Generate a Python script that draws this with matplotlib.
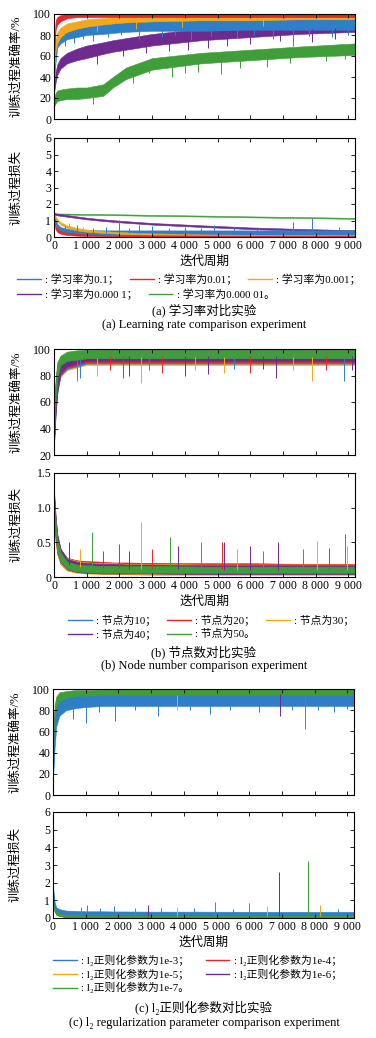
import numpy as np
import matplotlib
matplotlib.use('Agg')
import matplotlib.pyplot as plt
from matplotlib.lines import Line2D

plt.rcParams['font.family'] = ['Liberation Serif', 'Noto Sans CJK SC', 'DejaVu Serif']
plt.rcParams['axes.unicode_minus'] = False

W, H = 376, 1038

COLORS = ['#2f7fc8', '#e8262a', '#f2a81d', '#6e2a8e', '#3f9e3a']

XS = [0, 50, 100, 200, 400, 700, 1000, 1500, 1800, 2200, 3000, 4500, 6000, 7500, 9200]
XTICKS = [0, 1000, 2000, 3000, 4000, 5000, 6000, 7000, 8000, 9000]
XTICKLABELS = ['0', '1 000', '2 000', '3 000', '4 000', '5 000', '6 000', '7 000', '8 000', '9 000']

# (a) learning rate -- accuracy band (low / high), loss band
a_labels = [': 学习率为0.1；', ': 学习率为0.01；', ': 学习率为0.001；',
            ': 学习率为0.000 1；', ': 学习率为0.000 01。']
a_acc_lo = [
    [35, 55, 68, 72, 76, 78, 80, 81, 82, 83, 84, 84, 85, 85, 85],
    [55, 85, 90, 93, 96, 97, 97, 97, 97, 97, 97, 97, 97, 97, 97],
    [45, 65, 72, 78, 83, 86, 88, 90, 91, 92, 93, 94, 94, 95, 95],
    [25, 35, 42, 48, 53, 56, 58, 62, 64, 66, 70, 75, 78, 81, 83],
    [12, 15, 17, 18, 19, 19, 20, 22, 30, 38, 47, 53, 56, 59, 61],
]
a_acc_hi = [
    [45, 70, 82, 86, 89, 91, 92, 93, 94, 94, 95, 95, 95, 95, 95],
    [65, 94, 97, 99, 100, 100, 100, 100, 100, 100, 100, 100, 100, 100, 100],
    [55, 75, 82, 87, 91, 93, 95, 96, 97, 97, 98, 98, 98.5, 98.5, 98.5],
    [32, 45, 52, 58, 63, 67, 70, 73, 75, 77, 81, 86, 88, 90, 92],
    [20, 25, 27, 28, 29, 30, 30, 33, 40, 49, 58, 63, 66, 69, 72],
]
a_loss_lo = [
    [1.30, 0.80, 0.50, 0.30, 0.20, 0.15, 0.13, 0.12, 0.12, 0.12, 0.12, 0.12, 0.12, 0.12, 0.12],
    [0.90, 0.45, 0.30, 0.20, 0.12, 0.08, 0.06, 0.04, 0.04, 0.03, 0.02, 0.02, 0.01, 0.01, 0.01],
    [1.25, 1.10, 0.95, 0.75, 0.55, 0.40, 0.32, 0.25, 0.22, 0.18, 0.13, 0.09, 0.07, 0.06, 0.05],
    [1.37, 1.33, 1.31, 1.28, 1.23, 1.15, 1.07, 0.97, 0.92, 0.86, 0.75, 0.61, 0.48, 0.39, 0.31],
    [1.37, 1.37, 1.37, 1.36, 1.36, 1.35, 1.34, 1.33, 1.32, 1.31, 1.28, 1.24, 1.19, 1.15, 1.10],
]
a_loss_hi = [
    [1.45, 1.10, 0.80, 0.60, 0.50, 0.45, 0.42, 0.40, 0.40, 0.40, 0.40, 0.40, 0.40, 0.40, 0.40],
    [1.20, 0.70, 0.50, 0.35, 0.25, 0.20, 0.16, 0.13, 0.12, 0.11, 0.10, 0.09, 0.08, 0.08, 0.08],
    [1.35, 1.25, 1.10, 0.90, 0.70, 0.55, 0.45, 0.36, 0.32, 0.28, 0.22, 0.16, 0.13, 0.11, 0.10],
    [1.47, 1.43, 1.41, 1.38, 1.33, 1.25, 1.17, 1.07, 1.02, 0.96, 0.85, 0.71, 0.58, 0.49, 0.41],
    [1.43, 1.43, 1.43, 1.42, 1.42, 1.41, 1.40, 1.39, 1.38, 1.37, 1.34, 1.30, 1.25, 1.21, 1.16],
]
a_acc_spikes = [(0, 350, 70), (0, 600, 72), (0, 900, 76), (0, 1200, 74), (0, 1650, 78),
                (0, 2050, 80), (0, 2600, 76), (0, 3300, 78), (0, 3700, 80), (0, 4200, 75),
                (0, 4800, 79), (0, 5600, 77), (0, 6100, 80), (0, 6700, 76), (0, 7300, 70),
                (0, 7800, 79), (0, 8500, 78), (0, 9000, 80),
                (2, 1300, 84), (2, 2500, 86), (2, 3900, 88), (2, 6400, 89),
                (3, 1300, 52), (3, 2100, 60), (3, 2800, 63), (3, 3500, 65), (3, 4100, 66),
                (3, 4700, 68), (3, 5300, 70), (3, 6000, 71), (3, 6900, 74), (3, 7900, 73),
                (3, 8600, 76),
                (4, 1200, 14), (4, 2400, 34), (4, 2900, 44), (4, 3600, 40), (4, 4000, 44),
                (4, 4400, 45), (4, 5100, 43), (4, 5700, 49), (4, 6500, 50), (4, 7200, 53),
                (4, 8300, 55), (4, 8900, 57)]
a_loss_spikes = [(0, 350, 0.65), (0, 700, 0.75), (0, 1200, 0.55), (0, 1600, 0.60),
                 (0, 1980, 1.05), (0, 2300, 0.55), (0, 2600, 0.70), (0, 3000, 0.65),
                 (0, 3500, 0.55), (0, 4000, 0.60), (0, 4500, 0.55), (0, 4900, 0.75),
                 (0, 5500, 0.55), (0, 6200, 0.50), (0, 6800, 0.55), (0, 7300, 0.90),
                 (0, 7880, 1.15), (0, 8300, 0.50), (0, 8700, 0.60),
                 (2, 450, 0.85), (2, 900, 0.60)]

# (b) node number
b_labels = [': 节点为10；', ': 节点为20；', ': 节点为30；', ': 节点为40；', ': 节点为50。']
b_acc_lo = [
    [28, 50, 66, 80, 85, 87, 89, 89, 89, 89, 89, 89, 89, 89, 89],
    [30, 55, 70, 81, 86, 88, 90, 90, 90, 90, 90, 90, 90, 90, 90],
    [29, 54, 69, 79, 84, 86, 88, 88, 88, 88, 88, 88, 88, 88, 88],
    [28, 52, 68, 82, 87, 89, 91, 91, 91, 91, 91, 91, 91, 91, 91],
    [32, 62, 78, 88, 91, 92, 93, 93, 93, 93, 93, 93, 93, 93, 93],
]
b_acc_hi = [
    [42, 72, 86, 93, 96, 97, 98, 98, 98, 98, 98, 98, 98, 98, 98],
    [45, 75, 88, 94, 97, 98, 99, 99, 99, 99.5, 99.5, 99.5, 99.5, 99.5, 99.5],
    [44, 74, 87, 94, 97, 98, 99, 99, 99, 99.5, 99.5, 99.5, 99.5, 99.5, 99.5],
    [43, 73, 87, 93, 96, 98, 98, 99, 99, 99, 99, 99, 99, 99, 99],
    [45, 78, 90, 95, 98, 99, 99.5, 99.5, 99.5, 99.5, 99.5, 99.5, 99.5, 99.5, 99.5],
]
b_loss_lo = [
    [0.90, 0.55, 0.35, 0.20, 0.10, 0.07, 0.06, 0.05, 0.05, 0.05, 0.04, 0.04, 0.04, 0.04, 0.04],
    [0.88, 0.52, 0.33, 0.19, 0.10, 0.07, 0.06, 0.05, 0.05, 0.04, 0.04, 0.04, 0.04, 0.04, 0.04],
    [0.90, 0.50, 0.32, 0.18, 0.09, 0.06, 0.05, 0.04, 0.04, 0.04, 0.03, 0.03, 0.03, 0.03, 0.03],
    [0.92, 0.56, 0.36, 0.21, 0.11, 0.07, 0.06, 0.05, 0.05, 0.05, 0.05, 0.04, 0.04, 0.04, 0.04],
    [0.95, 0.60, 0.38, 0.22, 0.12, 0.08, 0.07, 0.06, 0.06, 0.06, 0.06, 0.06, 0.06, 0.06, 0.06],
]
b_loss_hi = [
    [1.20, 0.85, 0.60, 0.40, 0.28, 0.24, 0.22, 0.21, 0.20, 0.20, 0.20, 0.19, 0.19, 0.18, 0.18],
    [1.18, 0.82, 0.58, 0.38, 0.27, 0.24, 0.23, 0.22, 0.21, 0.21, 0.20, 0.20, 0.20, 0.19, 0.19],
    [1.15, 0.80, 0.56, 0.37, 0.27, 0.23, 0.21, 0.20, 0.20, 0.19, 0.19, 0.18, 0.18, 0.18, 0.18],
    [1.25, 0.88, 0.62, 0.41, 0.26, 0.22, 0.20, 0.19, 0.19, 0.18, 0.18, 0.17, 0.17, 0.17, 0.17],
    [1.15, 0.80, 0.55, 0.35, 0.22, 0.18, 0.17, 0.16, 0.16, 0.16, 0.16, 0.15, 0.15, 0.15, 0.15],
]
b_acc_spikes = [(0, 800, 78), (4, 700, 76), (2, 1300, 80), (1, 1700, 84), (1, 2100, 78),
                (3, 2300, 80), (2, 2650, 74), (0, 2900, 84), (1, 3300, 82), (3, 4000, 80),
                (2, 4300, 84), (3, 4700, 81), (2, 5200, 82), (0, 5500, 85), (1, 6000, 82),
                (3, 6400, 85), (3, 6800, 78), (2, 7300, 84), (2, 7900, 76), (1, 8300, 84),
                (0, 8850, 76), (3, 9100, 84)]
b_loss_spikes = [(3, 450, 0.50), (2, 800, 0.40), (4, 1150, 0.65), (1, 1500, 0.38),
                 (1, 2000, 0.48), (3, 2300, 0.38), (2, 2650, 0.80), (1, 3000, 0.40),
                 (4, 3550, 0.57), (3, 3800, 0.45), (4, 4500, 0.50), (1, 5150, 0.50),
                 (3, 5200, 0.50), (2, 5600, 0.40), (3, 6000, 0.45), (4, 6400, 0.38),
                 (3, 6850, 0.50), (4, 7600, 0.40), (2, 8050, 0.52), (1, 8400, 0.42),
                 (0, 8900, 0.62), (2, 8950, 0.45)]

# (c) l2 regularization parameter
c_labels = [': l₂正则化参数为1e-3；', ': l₂正则化参数为1e-4；', ': l₂正则化参数为1e-5；',
            ': l₂正则化参数为1e-6；', ': l₂正则化参数为1e-7。']
c_acc_lo = [
    [15, 45, 65, 75, 80, 82, 83, 84, 84, 84, 84, 84, 84, 84, 84],
    [25, 60, 78, 85, 88, 89, 90, 90, 90, 90, 91, 91, 91, 91, 91],
    [24, 58, 76, 84, 87, 89, 90, 90, 90, 90, 90, 90, 90, 90, 90],
    [26, 60, 77, 85, 88, 89, 90, 90, 91, 91, 91, 91, 91, 91, 91],
    [30, 65, 82, 88, 90, 91, 92, 92, 92, 92, 92, 92, 92, 92, 92],
]
c_acc_hi = [
    [30, 65, 80, 88, 91, 93, 93, 94, 94, 94, 94, 94, 94, 94, 94],
    [40, 80, 90, 95, 97, 98, 98, 99, 99, 99, 99, 99, 99, 99, 99],
    [40, 78, 89, 95, 97, 98, 98, 98, 99, 99, 99, 99, 99, 99, 99],
    [42, 80, 90, 95, 97, 98, 98, 99, 99, 99, 99, 99, 99, 99, 99],
    [45, 85, 93, 97, 98, 99, 99, 99.5, 99.5, 99.5, 99.5, 99.5, 99.5, 99.5, 99.5],
]
c_loss_lo = [
    [1.20, 0.60, 0.40, 0.30, 0.22, 0.20, 0.20, 0.20, 0.20, 0.20, 0.19, 0.19, 0.18, 0.18, 0.18],
    [0.90, 0.40, 0.20, 0.12, 0.06, 0.04, 0.03, 0.03, 0.02, 0.02, 0.02, 0.02, 0.02, 0.02, 0.02],
    [0.95, 0.42, 0.22, 0.13, 0.07, 0.05, 0.04, 0.03, 0.03, 0.03, 0.02, 0.02, 0.02, 0.02, 0.02],
    [0.90, 0.40, 0.21, 0.12, 0.06, 0.04, 0.03, 0.03, 0.02, 0.02, 0.02, 0.02, 0.02, 0.02, 0.02],
    [0.85, 0.38, 0.19, 0.11, 0.05, 0.03, 0.02, 0.02, 0.02, 0.02, 0.02, 0.02, 0.02, 0.02, 0.02],
]
c_loss_hi = [
    [1.80, 0.90, 0.60, 0.50, 0.42, 0.40, 0.38, 0.38, 0.37, 0.37, 0.36, 0.36, 0.35, 0.35, 0.35],
    [1.50, 0.70, 0.45, 0.33, 0.25, 0.22, 0.20, 0.19, 0.18, 0.18, 0.17, 0.17, 0.16, 0.16, 0.16],
    [1.50, 0.72, 0.46, 0.34, 0.26, 0.22, 0.20, 0.19, 0.19, 0.18, 0.18, 0.17, 0.17, 0.17, 0.17],
    [1.45, 0.68, 0.44, 0.32, 0.25, 0.21, 0.20, 0.19, 0.18, 0.18, 0.17, 0.17, 0.16, 0.16, 0.16],
    [1.40, 0.65, 0.42, 0.30, 0.23, 0.20, 0.18, 0.17, 0.16, 0.16, 0.16, 0.15, 0.15, 0.15, 0.15],
]
c_acc_spikes = [(0, 600, 72), (0, 1000, 68), (0, 1400, 78), (0, 1900, 70), (0, 2500, 80),
                (0, 3200, 75), (2, 3800, 80), (0, 4200, 80), (0, 4800, 76), (0, 5400, 80),
                (0, 6300, 78), (3, 6950, 75), (0, 7300, 80), (4, 7700, 62), (0, 8100, 80),
                (0, 8600, 78), (0, 9000, 81)]
c_loss_spikes = [(4, 850, 0.60), (0, 1050, 0.75), (0, 1450, 0.55), (0, 1850, 0.70),
                 (4, 2500, 0.55), (3, 2900, 0.75), (0, 3300, 0.55), (2, 3800, 0.60),
                 (0, 4300, 0.55), (4, 4950, 0.90), (0, 5500, 0.50), (4, 6000, 0.85),
                 (2, 6550, 0.70), (3, 6900, 2.60), (4, 7800, 3.25), (2, 8150, 0.75),
                 (0, 8700, 0.50)]


fig = plt.figure(figsize=(W / 100, H / 100), dpi=100)


def px_axes(top, bottom, left=54, right=355):
    return fig.add_axes([left / W, 1 - bottom / H, (right - left) / W, (bottom - top) / H])


def draw(ax, lo, hi, spikes, order, ylim, yticks, yticklabels, ylabel, xlabels):
    for i in order:
        ax.fill_between(XS, lo[i], hi[i], color=COLORS[i], lw=0.4, edgecolor=COLORS[i])
    for i, x, y in spikes:
        mid = np.interp(x, XS, (np.array(lo[i]) + np.array(hi[i])) / 2)
        ax.vlines(x, mid, y, color=COLORS[i], lw=0.7)
    ax.set_xlim(0, 9200)
    ax.set_ylim(*ylim)
    ax.set_xticks(XTICKS)
    ax.set_yticks(yticks)
    ax.set_yticklabels(yticklabels)
    if xlabels:
        ax.set_xticklabels(XTICKLABELS)
        ax.set_xlabel('迭代周期', fontsize=9, labelpad=3)
    else:
        ax.set_xticklabels([])
    ax.set_ylabel(ylabel, fontsize=9)
    ax.yaxis.set_label_coords(-0.105, 0.5)
    ax.tick_params(direction='in', top=True, right=True, length=3, width=0.6,
                   labelsize=8.5, pad=2)
    for s in ax.spines.values():
        s.set_linewidth(0.8)


def legend_row(idx, labels, x_px, y_px):
    handles = [Line2D([], [], color=COLORS[i], lw=1) for i in idx]
    fig.legend(handles, [labels[i] for i in idx], loc='center left',
               bbox_to_anchor=(x_px / W, 1 - y_px / H), ncol=len(idx), frameon=False,
               fontsize=7.8, handlelength=2.2, handletextpad=0.4, columnspacing=1.0,
               borderpad=0, borderaxespad=0)


def caption(text, y_px, size=9):
    fig.text(204 / W, 1 - y_px / H, text, ha='center', va='center', fontsize=size)


acc_label = '训练过程准确率/%'
loss_label = '训练过程损失'

# (a)
ax = px_axes(14, 119)
draw(ax, a_acc_lo, a_acc_hi, a_acc_spikes, [4, 3, 0, 2, 1], (0, 100),
     [0, 20, 40, 60, 80, 100], ['0', '20', '40', '60', '80', '100'], acc_label, False)
ax = px_axes(138, 237)
draw(ax, a_loss_lo, a_loss_hi, a_loss_spikes, [4, 3, 0, 2, 1], (0, 6),
     [0, 1, 2, 3, 4, 5, 6], ['0', '1', '2', '3', '4', '5', '6'], loss_label, True)
legend_row([0, 1, 2], a_labels, 17, 279)
legend_row([3, 4], a_labels, 17, 294)
caption('(a) 学习率对比实验', 310)
caption('(a) Learning rate comparison experiment', 325)

# (b)
ax = px_axes(349, 455)
draw(ax, b_acc_lo, b_acc_hi, b_acc_spikes, [2, 0, 1, 3, 4], (20, 100),
     [20, 40, 60, 80, 100], ['20', '40', '60', '80', '100'], acc_label, False)
ax = px_axes(473, 577)
draw(ax, b_loss_lo, b_loss_hi, b_loss_spikes, [0, 1, 2, 3, 4], (0, 1.5),
     [0, 0.5, 1.0, 1.5], ['0', '0.5', '1.0', '1.5'], loss_label, True)
legend_row([0, 1, 2], b_labels, 68, 620)
legend_row([3, 4], b_labels, 68, 634)
caption('(b) 节点数对比实验', 652)
caption('(b) Node number comparison experiment', 666)

# (c)
ax = px_axes(689, 795, left=53, right=354)
draw(ax, c_acc_lo, c_acc_hi, c_acc_spikes, [1, 2, 3, 4, 0], (0, 100),
     [0, 20, 40, 60, 80, 100], ['0', '20', '40', '60', '80', '100'], acc_label, False)
ax = px_axes(812, 918, left=53, right=354)
draw(ax, c_loss_lo, c_loss_hi, c_loss_spikes, [1, 2, 3, 4, 0], (0, 6),
     [0, 1, 2, 3, 4, 5, 6], ['0', '1', '2', '3', '4', '5', '6'], loss_label, True)
handles = [Line2D([], [], color=COLORS[i], lw=1) for i in [0, 2, 4, 1, 3]]
fig.legend(handles, [c_labels[i] for i in [0, 2, 4, 1, 3]], loc='center left',
           bbox_to_anchor=(53 / W, 1 - 974 / H), ncol=2, frameon=False, fontsize=7.8,
           handlelength=2.2, handletextpad=0.4, columnspacing=1.5, labelspacing=0.25,
           borderpad=0, borderaxespad=0)
caption('(c) l₂正则化参数对比实验', 1008)
caption('(c) l₂ regularization parameter comparison experiment', 1023)

fig.savefig('out.png', dpi=100)
